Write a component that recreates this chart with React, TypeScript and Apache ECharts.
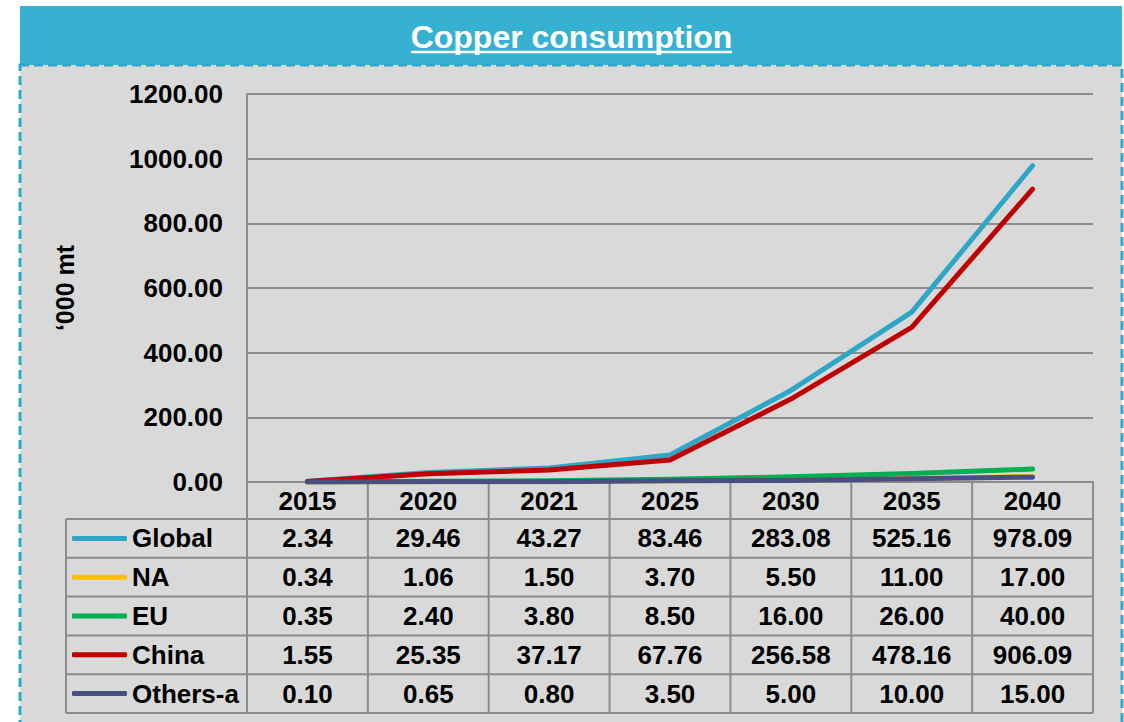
import React, { useEffect, useRef } from "react";
import * as echarts from "echarts";

const years = ["2015", "2020", "2021", "2025", "2030", "2035", "2040"];
const seriesNames = ["Global", "NA", "EU", "China", "Others-a"];
const globalVals = [2.34, 29.46, 43.27, 83.46, 283.08, 525.16, 978.09];
const naVals = [0.34, 1.06, 1.5, 3.7, 5.5, 11.0, 17.0];
const euVals = [0.35, 2.4, 3.8, 8.5, 16.0, 26.0, 40.0];
const chinaVals = [1.55, 25.35, 37.17, 67.76, 256.58, 478.16, 906.09];
const othersVals = [0.1, 0.65, 0.8, 3.5, 5.0, 10.0, 15.0];
const seriesColors = ["#2ea6c6", "#ffc000", "#00b050", "#c00000", "#494f80"];
const yMin = 0;
const yMax = 1200;
const yStep = 200;
const titleText = "Copper consumption";
const yAxisName = "\u2018000 mt";

const FONT = "'Liberation Sans', Arial, sans-serif";
const W = 1124;
const H = 722;
const GRID_L = 247;
const GRID_R = 1093;
const GRID_T = 94;
const GRID_B = 482;
const TABLE_L = 66;
const HEADER_BOTTOM = 519;
const ROW_H = 38.8;
const LINE_COLOR = "#8c8c8c";

export default function App() {
  const ref = useRef<HTMLDivElement>(null);
  useEffect(() => {
    if (!ref.current) return;
    const chart = echarts.init(ref.current, null, { renderer: "svg" });
    const allVals = [globalVals, naVals, euVals, chinaVals, othersVals];
    const rowCenters = allVals.map((_, i) => HEADER_BOTTOM + ROW_H * i + ROW_H / 2);
    const tableBottom = HEADER_BOTTOM + ROW_H * allVals.length;
    const colW = (GRID_R - GRID_L) / years.length;

    const graphics: any[] = [
      {
        type: "rect",
        z: -20,
        shape: { x: 20, y: 6, width: 1102, height: 60 },
        style: { fill: "#37b1d1" },
      },
      {
        type: "rect",
        z: -19,
        shape: { x: 20, y: 65, width: 1102, height: 700 },
        style: { fill: "#d9d9d9", stroke: "#2ea8c9", lineWidth: 3, lineDash: [9, 5] },
      },
      {
        type: "text",
        z: 10,
        x: 571.5,
        y: 37,
        style: {
          text: titleText,
          fill: "#ffffff",
          font: `bold 32px ${FONT}`,
          textAlign: "center",
          textVerticalAlign: "middle",
        },
      },
      {
        type: "line",
        z: 10,
        shape: { x1: 411, y1: 52, x2: 732, y2: 52 },
        style: { stroke: "#ffffff", lineWidth: 2.5 },
      },
    ];
    // table horizontal lines
    for (let i = 0; i <= allVals.length; i++) {
      const y = HEADER_BOTTOM + ROW_H * i;
      graphics.push({
        type: "line",
        z: 5,
        shape: { x1: TABLE_L, y1: y, x2: GRID_R, y2: y },
        style: { stroke: LINE_COLOR, lineWidth: 2 },
      });
    }
    // table vertical lines
    graphics.push({
      type: "line",
      z: 5,
      shape: { x1: TABLE_L, y1: HEADER_BOTTOM, x2: TABLE_L, y2: tableBottom },
      style: { stroke: LINE_COLOR, lineWidth: 2 },
    });
    for (let k = 0; k <= years.length; k++) {
      const x = GRID_L + colW * k;
      graphics.push({
        type: "line",
        z: 5,
        shape: { x1: x, y1: GRID_B, x2: x, y2: tableBottom },
        style: { stroke: LINE_COLOR, lineWidth: 2 },
      });
    }

    const labelStyle = {
      fontSize: 26,
      fontWeight: "bold",
      color: "#000",
      fontFamily: FONT,
    };

    const xAxes: any[] = [
      {
        type: "category",
        data: years,
        boundaryGap: true,
        axisLine: { show: true, lineStyle: { color: LINE_COLOR, width: 2 } },
        axisTick: { show: false },
        splitLine: { show: false },
        axisLabel: { ...labelStyle, interval: 0, margin: (HEADER_BOTTOM - GRID_B) / 2, verticalAlign: "middle" },
      },
      ...allVals.map((vals, i) => ({
        type: "category",
        data: years,
        position: "bottom",
        offset: rowCenters[i] - GRID_B,
        boundaryGap: true,
        axisLine: { show: false },
        axisTick: { show: false },
        splitLine: { show: false },
        axisLabel: {
          ...labelStyle,
          interval: 0,
          margin: 0,
          verticalAlign: "middle",
          formatter: (_v: string, idx: number) => vals[idx].toFixed(2),
        },
      })),
    ];

    const legends = seriesNames.map((name, i) => ({
      data: [name],
      left: 72,
      top: rowCenters[i] - 13,
      orient: "horizontal",
      icon: "roundRect",
      itemWidth: 55,
      itemHeight: 5,
      padding: 0,
      selectedMode: false,
      textStyle: { ...labelStyle },
    }));

    chart.setOption({
      animation: false,
      backgroundColor: "#ffffff",
      graphic: { elements: graphics },
      legend: legends,
      grid: {
        left: GRID_L,
        right: W - GRID_R,
        top: GRID_T,
        bottom: H - GRID_B,
        containLabel: false,
      },
      xAxis: xAxes,
      yAxis: {
        type: "value",
        min: yMin,
        max: yMax,
        interval: yStep,
        name: yAxisName,
        nameLocation: "middle",
        nameRotate: 90,
        nameGap: 170,
        nameTextStyle: { ...labelStyle, fontSize: 25 },
        axisLine: { show: true, lineStyle: { color: LINE_COLOR, width: 2 } },
        axisTick: { show: false },
        splitLine: { show: true, lineStyle: { color: LINE_COLOR, width: 2 } },
        axisLabel: {
          ...labelStyle,
          margin: 24,
          formatter: (v: number) => v.toFixed(2),
        },
      },
      series: allVals.map((vals, i) => ({
        name: seriesNames[i],
        type: "line",
        data: vals,
        symbol: "none",
        color: seriesColors[i],
        lineStyle: { color: seriesColors[i], width: 5, cap: "round", join: "round" },
        z: 3 + i,
      })),
    });
    return () => chart.dispose();
  }, []);
  return (
    <div
      ref={ref}
      style={{ position: "absolute", left: 0, top: 0, width: W, height: H }}
    />
  );
}
